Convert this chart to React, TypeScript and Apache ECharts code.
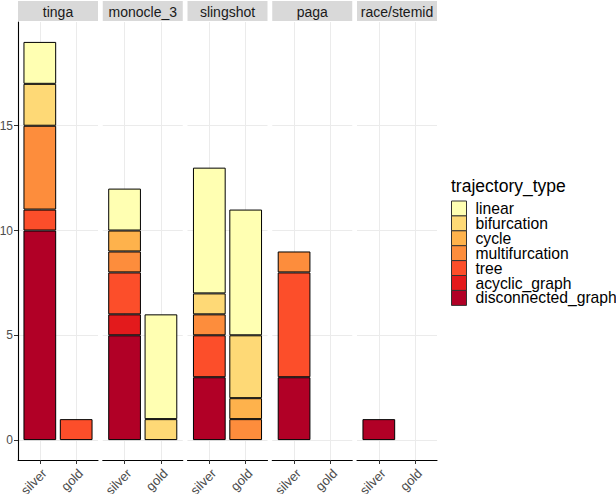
import React, { useEffect, useRef } from 'react';
import * as echarts from 'echarts';

const facets = ['tinga', 'monocle_3', 'slingshot', 'paga', 'race/stemid'];
const groups = ['silver', 'gold'];
const trajectoryTypes = ['linear', 'bifurcation', 'cycle', 'multifurcation', 'tree', 'acyclic_graph', 'disconnected_graph'];
const typeColors = ['#FFFFB2', '#FED976', '#FEB24C', '#FD8D3C', '#FC4E2A', '#E31A1C', '#B10026'];

// counts per facet: [silver, gold]
const linear = [[2, 0], [2, 5], [6, 6], [0, 0], [0, 0]];
const bifurcation = [[2, 0], [0, 1], [1, 3], [0, 0], [0, 0]];
const cycle = [[0, 0], [1, 0], [0, 1], [0, 0], [0, 0]];
const multifurcation = [[4, 0], [1, 0], [1, 1], [1, 0], [0, 0]];
const tree = [[1, 1], [2, 0], [2, 0], [5, 0], [0, 0]];
const acyclicGraph = [[0, 0], [1, 0], [0, 0], [0, 0], [0, 0]];
const disconnectedGraph = [[10, 0], [5, 0], [3, 0], [3, 0], [1, 0]];

const yTicks = [0, 5, 10, 15];
const xTicks = [1, 2];

const typeValues = [linear, bifurcation, cycle, multifurcation, tree, acyclicGraph, disconnectedGraph];

const FONT = '"Liberation Sans", Arial, Helvetica, sans-serif';

export default function App() {
  const ref = useRef<HTMLDivElement>(null);
  useEffect(() => {
    const chart = echarts.init(ref.current!, null, { renderer: 'svg' });
    const X_MIN = 0.4, X_MAX = 2.6, Y_MIN = -0.95, Y_MAX = 19.95;
    const panelLeft = 18, panelStep = 84.75, panelWidth = 80, panelTop = 22, panelHeight = 438;
    const barWidth = 0.9 * panelWidth / (X_MAX - X_MIN);

    const grid = facets.map((_, i) => ({
      left: panelLeft + i * panelStep,
      top: panelTop,
      width: panelWidth,
      height: panelHeight,
      containLabel: false,
      outerBoundsMode: 'none',
    }));

    const xAxis = facets.map((_, f) => ({
      type: 'value',
      gridIndex: f,
      min: X_MIN,
      max: X_MAX,
      axisLine: { show: true, onZero: false, lineStyle: { color: '#000', width: 1.1 } },
      axisTick: { show: true, length: 4, customValues: xTicks, lineStyle: { color: '#333', width: 1 } },
      axisLabel: {
        customValues: xTicks,
        formatter: (v: number) => groups[Math.round(v) - 1] ?? '',
        rotate: 45,
        align: 'right',
        verticalAlign: 'top',
        fontSize: 13,
        color: '#4D4D4D',
        margin: 6.5,
        fontFamily: FONT,
      },
      splitLine: { show: true, lineStyle: { color: '#EBEBEB', width: 1 } },
    }));

    const yAxis = facets.map((_, f) => ({
      type: 'value',
      gridIndex: f,
      min: Y_MIN,
      max: Y_MAX,
      axisLine: { show: f === 0, lineStyle: { color: '#000', width: 1.1 } },
      axisTick: { show: f === 0, length: 4, customValues: yTicks, lineStyle: { color: '#333', width: 1 } },
      axisLabel: {
        show: f === 0,
        customValues: yTicks,
        fontSize: 12,
        color: '#4D4D4D',
        margin: 5,
        fontFamily: FONT,
      },
      splitLine: { show: true, lineStyle: { color: '#EBEBEB', width: 1 } },
    }));

    const series: any[] = [];
    facets.forEach((_, f) => {
      for (let t = trajectoryTypes.length - 1; t >= 0; t--) {
        const vals = typeValues[t][f];
        series.push({
          type: 'bar',
          name: trajectoryTypes[t],
          xAxisIndex: f,
          yAxisIndex: f,
          stack: 'facet' + f,
          barWidth,
          encode: { x: 1, y: 0 },
          data: groups.map((_, gi) => [vals[gi] > 0 ? vals[gi] : '-', gi + 1]),
          itemStyle: { color: typeColors[t], borderColor: '#000', borderWidth: 1 },
          emphasis: { disabled: true },
          silent: true,
        });
      }
    });

    const graphic: any[] = [];
    facets.forEach((name, i) => {
      const x = panelLeft + i * panelStep;
      graphic.push({
        type: 'rect',
        shape: { x, y: 1, width: panelWidth, height: 20 },
        style: { fill: '#D9D9D9' },
        silent: true,
      });
      graphic.push({
        type: 'text',
        x: x + panelWidth / 2,
        y: 11.5,
        style: {
          text: name,
          align: 'center',
          verticalAlign: 'middle',
          textAlign: 'center',
          textVerticalAlign: 'middle',
          fontSize: 14,
          fontFamily: FONT,
          fill: '#1A1A1A',
        },
        silent: true,
      });
    });
    graphic.push({
      type: 'text',
      x: 451,
      y: 185.5,
      style: {
        text: 'trajectory_type',
        align: 'left',
        verticalAlign: 'middle',
        textAlign: 'left',
        textVerticalAlign: 'middle',
        fontSize: 17.5,
        fontFamily: FONT,
        fill: '#000',
      },
      silent: true,
    });

    chart.setOption({
      animation: false,
      backgroundColor: '#fff',
      grid,
      xAxis,
      yAxis,
      series,
      graphic,
      legend: {
        orient: 'vertical',
        left: 451,
        top: 200.5,
        padding: 0,
        itemGap: -1.1,
        itemWidth: 15,
        itemHeight: 15,
        icon: 'rect',
        data: trajectoryTypes,
        selectedMode: false,
        itemStyle: { borderColor: '#333', borderWidth: 1 },
        textStyle: { fontSize: 15.7, color: '#000', fontFamily: FONT, lineHeight: 15, padding: [0, 0, 0, 4] },
      },
    });
    return () => chart.dispose();
  }, []);
  return <div ref={ref} style={{ position: 'fixed', left: 0, top: 0, width: 616, height: 494 }} />;
}
